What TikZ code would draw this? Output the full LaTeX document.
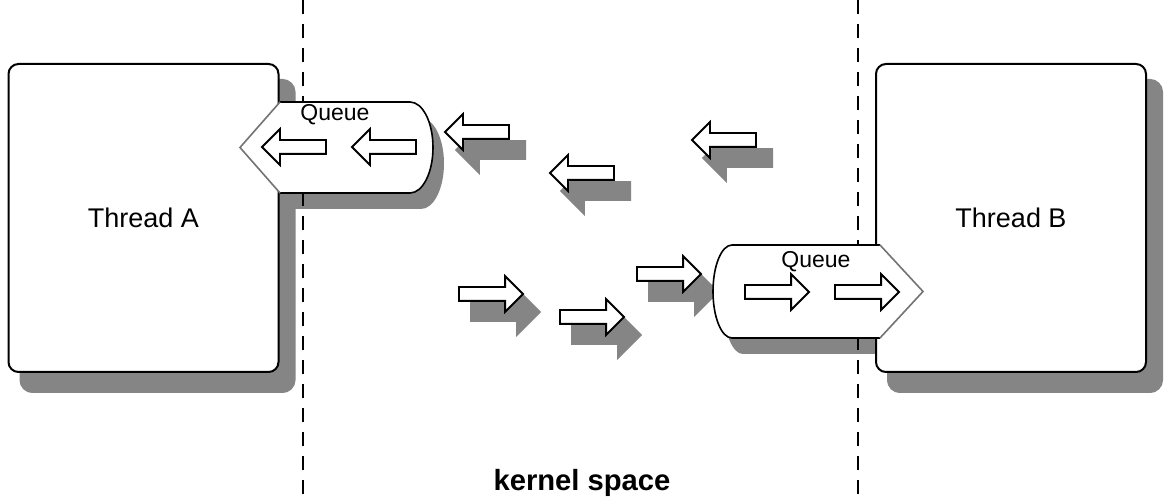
\documentclass[tikz,border=0pt]{standalone}
\usepackage{fontspec}
\setmainfont{Liberation Sans}
\usetikzlibrary{shapes.arrows,shadows}

\begin{document}
\begin{tikzpicture}[x=0.5pt, y=0.5pt,
    shadowed/.style={drop shadow={shadow xshift=7pt, shadow yshift=-9pt,
      fill=black!48, draw=black!48, line width=3pt, opacity=1}},
    thread/.style={draw, line width=1pt, rounded corners=5pt, fill=white,
      minimum width=135pt, minimum height=154pt, font=\fontsize{13.5}{15}\selectfont},
    blockarrow/.style={single arrow, draw, line width=0.9pt, fill=white,
      minimum height=32pt, inner xsep=0pt, inner ysep=3pt, outer sep=0pt,
      text width=0pt, text height=0pt, text depth=0pt,
      single arrow head extend=5.5pt, single arrow tip angle=90},
    leftarrow/.style={blockarrow, shape border rotate=180, anchor=tip},
    rightarrow/.style={blockarrow, anchor=tail},
    qshadow/.style={fill=black!48},
    qedge/.style={line width=0.8pt},
    qpoint/.style={line width=0.8pt, draw=black!55},
    qlabel/.style={font=\fontsize{11.5}{13}\selectfont},
    border/.style={dashed, dash pattern=on 7pt off 5pt, line width=0.7pt} ]

  \useasboundingbox[fill=white] (0,0) rectangle (1164,504);

  % shadows of the two queues, kept under the threads
  \fill[qshadow, shift={(11,-16)}] (280,402) -- (410,402)
    arc[start angle=90, end angle=-90, x radius=23, y radius=45.5]
    -- (280,311) -- (240,356.5) -- cycle;
  \fill[qshadow, shift={(11,-16)}] (880,259) -- (732,259)
    arc[start angle=90, end angle=270, x radius=19, y radius=46.5]
    -- (880,166) -- (923,212.5) -- cycle;

  % user / kernel boundaries
  \draw[border] (303,504) -- (303,0);
  \draw[border] (858,504) -- (858,0);

  \node[thread, shadowed] (threadA) at (143.5,286) {Thread A};
  \node[thread, shadowed] (threadB) at (1011,286) {Thread B};

  % messages on the way
  \node[leftarrow, shadowed] (msgA1) at (445,372) {};
  \node[leftarrow, shadowed] (msgA2) at (550,331) {};
  \node[leftarrow, shadowed] (msgA3) at (692,364) {};
  \node[rightarrow, shadowed] (msgB1) at (459,210) {};
  \node[rightarrow, shadowed] (msgB2) at (560,187) {};
  \node[rightarrow, shadowed] (msgB3) at (637,230) {};

  % queue of thread A
  \fill[white] (280,402) -- (410,402)
    arc[start angle=90, end angle=-90, x radius=23, y radius=45.5]
    -- (280,311) -- (240,356.5) -- cycle;
  \draw[qedge] (280,402) -- (410,402)
    arc[start angle=90, end angle=-90, x radius=23, y radius=45.5]
    -- (280,311);
  \draw[qpoint] (280,402) -- (240,356.5) -- (280,311);
  \node[qlabel] (queueA) at (335,389) {Queue};
  \node[leftarrow] (inA1) at (262,357) {};
  \node[leftarrow] (inA2) at (352,357) {};

  % queue of thread B
  \fill[white] (880,259) -- (732,259)
    arc[start angle=90, end angle=270, x radius=19, y radius=46.5]
    -- (880,166) -- (923,212.5) -- cycle;
  \draw[qedge] (880,259) -- (732,259)
    arc[start angle=90, end angle=270, x radius=19, y radius=46.5]
    -- (880,166);
  \draw[qpoint] (880,259) -- (923,212.5) -- (880,166);
  \node[qlabel] (queueB) at (816,242) {Queue};
  \node[rightarrow] (inB1) at (745,212) {};
  \node[rightarrow] (inB2) at (835,212) {};

  \node[font=\fontsize{14.6}{16}\selectfont\bfseries] (kernel) at (582,21)
    {kernel space};

\end{tikzpicture}
\end{document}
